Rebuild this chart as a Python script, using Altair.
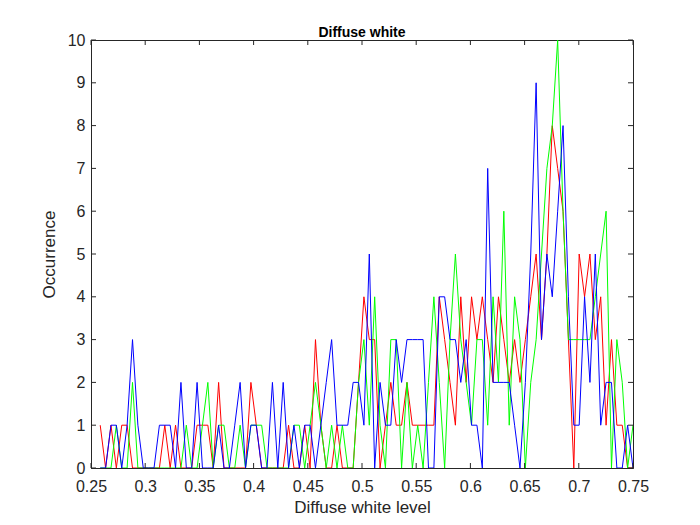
import altair as alt
import numpy as np
import pandas as pd

# Histogram bins (100 bins between the smallest and largest level)
bin_first_center = 0.2585
bin_last_center = 0.75
n_bins = 100

red_counts = [1, 0, 1, 0, 1, 1, 0, 0, 0, 0,
              0, 0, 1, 0, 1, 0, 0, 0, 1, 1,
              1, 0, 2, 0, 0, 0, 0, 0, 2, 1,
              0, 0, 0, 0, 0, 1, 0, 0, 1, 0,
              3, 1, 0, 0, 1, 0, 0, 0, 2, 4,
              3, 3, 0, 1, 2, 1, 1, 2, 1, 1,
              1, 1, 1, 4, 3, 2, 1, 4, 2, 4,
              3, 4, 3, 2, 4, 3, 2, 3, 2, 3,
              4, 5, 3, 5, 8, 7, 6, 3, 0, 5,
              4, 5, 3, 4, 1, 3, 1, 1, 0, 0]

green_counts = [0, 0, 0, 1, 0, 0, 2, 0, 0, 0,
                0, 0, 0, 0, 0, 0, 1, 0, 0, 1,
                2, 0, 1, 1, 0, 0, 1, 0, 1, 1,
                1, 0, 0, 0, 0, 0, 1, 1, 0, 1,
                2, 1, 0, 1, 0, 1, 0, 0, 2, 3,
                1, 4, 1, 0, 3, 3, 0, 2, 0, 1,
                0, 2, 4, 2, 0, 3, 5, 3, 2, 1,
                3, 3, 1, 4, 2, 6, 1, 4, 3, 0,
                2, 3, 5, 7, 8, 10, 6, 3, 3, 3,
                3, 3, 4, 5, 6, 0, 3, 2, 0, 1]

blue_counts = [0, 0, 1, 1, 0, 1, 3, 1, 0, 0,
               0, 1, 1, 1, 0, 2, 0, 0, 2, 0,
               0, 0, 1, 0, 0, 1, 2, 0, 1, 1,
               0, 0, 2, 0, 2, 0, 1, 0, 1, 1,
               0, 1, 2, 3, 1, 1, 1, 2, 2, 1,
               5, 0, 2, 1, 1, 3, 2, 3, 3, 3,
               3, 0, 0, 4, 4, 3, 3, 2, 3, 1,
               1, 0, 7, 2, 2, 2, 2, 1, 0, 2,
               5, 9, 3, 5, 4, 6, 8, 4, 1, 1,
               4, 2, 5, 1, 2, 2, 0, 0, 1, 0]

x_ticks = [0.25, 0.3, 0.35, 0.4, 0.45, 0.5, 0.55, 0.6, 0.65, 0.7, 0.75]
y_ticks = [0, 1, 2, 3, 4, 5, 6, 7, 8, 9, 10]

centers = np.linspace(bin_first_center, bin_last_center, n_bins)
frames = []
for name, counts in [("red", red_counts), ("green", green_counts), ("blue", blue_counts)]:
    frames.append(pd.DataFrame({"level": centers, "count": counts, "series": name}))
df = pd.concat(frames, ignore_index=True)

W, H = 542, 428
AXC = "#262626"
FONT = "Liberation Sans"

xs = alt.Scale(domain=[0.25, 0.75], nice=False, zero=False)
ys = alt.Scale(domain=[0, 10], nice=False)

x_axis = alt.Axis(values=x_ticks, ticks=False, grid=False, domainColor=AXC,
                  labelColor=AXC, labelFontSize=16, labelFont=FONT, labelPadding=10,
                  labelFlush=False, labelOverlap=False,
                  labelExpr="format(datum.value, '.2~f')",
                  title="Diffuse white level", titleFontSize=17, titleFont=FONT,
                  titleFontWeight="normal", titleColor=AXC, titlePadding=5)
y_axis = alt.Axis(values=y_ticks, ticks=False, grid=False, domainColor=AXC,
                  labelColor=AXC, labelFontSize=16, labelFont=FONT, labelPadding=6,
                  labelFlush=False, labelOverlap=False,
                  title="Occurrence", titleFontSize=17, titleFont=FONT,
                  titleFontWeight="normal", titleColor=AXC, titlePadding=9)

base = alt.Chart(df)
layers = []
for name, col in [("red", "#ff0000"), ("green", "#00ff00"), ("blue", "#0000ff")]:
    layers.append(
        base.transform_filter(alt.datum.series == name)
        .mark_line(strokeWidth=1, clip=True, color=col)
        .encode(x=alt.X("level:Q", scale=xs, axis=x_axis),
                y=alt.Y("count:Q", scale=ys, axis=y_axis))
    )

xt = pd.DataFrame({"t": x_ticks})
yt = pd.DataFrame({"t": y_ticks})
tick_style = dict(color=AXC, strokeWidth=1)
xb = alt.Chart(xt).mark_rule(**tick_style).encode(
    x=alt.X("t:Q", scale=xs, axis=x_axis), y=alt.value(H), y2=alt.value(H - 5))
xtop = alt.Chart(xt).mark_rule(**tick_style).encode(
    x=alt.X("t:Q", scale=xs, axis=x_axis), y=alt.value(0), y2=alt.value(5))
yl = alt.Chart(yt).mark_rule(**tick_style).encode(
    y=alt.Y("t:Q", scale=ys, axis=y_axis), x=alt.value(0), x2=alt.value(5))
yr = alt.Chart(yt).mark_rule(**tick_style).encode(
    y=alt.Y("t:Q", scale=ys, axis=y_axis), x=alt.value(W), x2=alt.value(W - 5))

chart = alt.layer(*layers, xb, xtop, yl, yr).properties(
    width=W, height=H,
    title=alt.TitleParams("Diffuse white", fontSize=14, font=FONT, fontWeight="bold",
                          color="#000000", offset=4, dy=12, anchor="middle"),
    autosize=alt.AutoSizeParams(type="none"),
    padding={"left": 91, "top": 40, "right": 67, "bottom": 57},
    background="white",
).configure_view(stroke=AXC, strokeWidth=1)

chart.save("out.html", embed_options={"renderer": "svg", "actions": False})
